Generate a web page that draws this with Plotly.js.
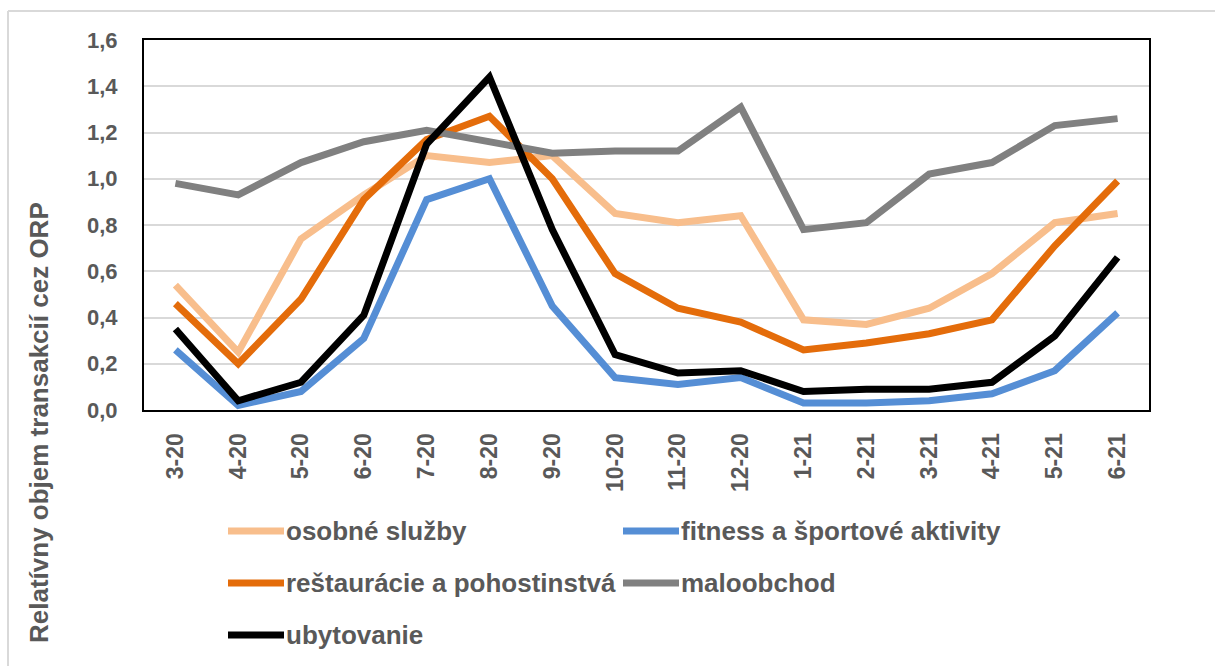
<!DOCTYPE html>
<html>
<head>
<meta charset="utf-8">
<script src="https://cdn.plot.ly/plotly-3.0.1.min.js"></script>
<style>html,body{margin:0;padding:0;background:#fff;}#chart{width:1215px;height:666px;}</style>
</head>
<body>
<div id="chart"></div>
<script>
// ---- data ----
const months = ["3-20","4-20","5-20","6-20","7-20","8-20","9-20","10-20","11-20","12-20","1-21","2-21","3-21","4-21","5-21","6-21"];
const seriesNames = ["osobné služby","fitness a športové aktivity","reštaurácie a pohostinstvá","maloobchod","ubytovanie"];
const osobneSluzby = [0.54,0.25,0.74,0.93,1.10,1.07,1.10,0.85,0.81,0.84,0.39,0.37,0.44,0.59,0.81,0.85];
const fitness      = [0.26,0.02,0.08,0.31,0.91,1.00,0.45,0.14,0.11,0.14,0.03,0.03,0.04,0.07,0.17,0.42];
const restauracie  = [0.46,0.20,0.48,0.91,1.17,1.27,1.00,0.59,0.44,0.38,0.26,0.29,0.33,0.39,0.71,0.99];
const maloobchod   = [0.98,0.93,1.07,1.16,1.21,1.16,1.11,1.12,1.12,1.31,0.78,0.81,1.02,1.07,1.23,1.26];
const ubytovanie   = [0.35,0.04,0.12,0.41,1.15,1.44,0.78,0.24,0.16,0.17,0.08,0.09,0.09,0.12,0.32,0.66];
const yTicks = [0,0.2,0.4,0.6,0.8,1.0,1.2,1.4,1.6];
const yTitle = "Relatívny objem transakcií cez ORP";

// ---- styles ----
const colors = ["#F8BE8C","#558ED5","#E46C0A","#808080","#000000"];
const allValues = [osobneSluzby, fitness, restauracie, maloobchod, ubytovanie];
const textColor = "#595959";
const FONT = "'Liberation Sans', Arial, sans-serif";

// plot area in pixels
const W = 1215, H = 666;
const L = 144, R = 1149, T = 40, B = 410;
const px2x = p => (p - L) / (R - L);
const px2y = p => (B - p) / (B - T);

const traces = allValues.map((vals, i) => ({
  type: "scatter",
  mode: "lines",
  x: months,
  y: vals,
  name: seriesNames[i],
  line: {color: colors[i], width: 7},
  showlegend: false,
  hoverinfo: "x+y+name"
}));

// manual legend (Excel-style long swatches, 2 columns)
const legendPos = [
  {sx: 225, ty: 531}, {sx: 620, ty: 531},
  {sx: 225, ty: 583}, {sx: 620, ty: 583},
  {sx: 225, ty: 635}
];
const shapes = [];
const annotations = [];
seriesNames.forEach((nm, i) => {
  const p = legendPos[i];
  shapes.push({type: "line", xref: "paper", yref: "paper",
    x0: px2x(p.sx + 3), x1: px2x(p.sx + 59), y0: px2y(p.ty), y1: px2y(p.ty),
    line: {color: colors[i], width: 7}});
  annotations.push({xref: "paper", yref: "paper", x: px2x(p.sx + 59), y: px2y(p.ty),
    xanchor: "left", yanchor: "middle", showarrow: false, text: "<b>" + nm + "</b>",
    font: {family: FONT, size: 26, color: textColor}});
});
// y-axis title centred on the whole chart
annotations.push({xref: "paper", yref: "paper", x: px2x(39), y: px2y(423),
  xanchor: "center", yanchor: "middle", textangle: -90, showarrow: false,
  text: "<b>" + yTitle + "</b>", font: {family: FONT, size: 26, color: textColor}});
// outer chart frame (top and left)
shapes.push({type: "line", xref: "paper", yref: "paper", x0: px2x(8), x1: px2x(1215), y0: px2y(11), y1: px2y(11), line: {color: "#D9D9D9", width: 2}});
shapes.push({type: "line", xref: "paper", yref: "paper", x0: px2x(8), x1: px2x(8), y0: px2y(11), y1: px2y(666), line: {color: "#D9D9D9", width: 2}});

const layout = {
  width: W, height: H,
  margin: {l: L, r: W - R, t: T, b: H - B, pad: 0},
  paper_bgcolor: "#fff", plot_bgcolor: "#fff",
  separators: ", ",
  font: {family: FONT, color: textColor},
  showlegend: false,
  xaxis: {
    type: "category",
    range: [-0.5, months.length - 0.5],
    showgrid: false, zeroline: false,
    showline: true, mirror: true, linecolor: "#000", linewidth: 2,
    ticks: "", tickangle: -90, ticklabelstandoff: 12,
    tickfont: {family: FONT, size: 23, color: textColor, weight: "bold"}
  },
  yaxis: {
    range: [0, 1.6],
    tickvals: yTicks,
    tickformat: ".1f",
    showgrid: true, gridcolor: "#D9D9D9", gridwidth: 2,
    zeroline: false,
    showline: true, mirror: true, linecolor: "#000", linewidth: 2,
    ticks: "", ticklabelstandoff: 20,
    tickfont: {family: FONT, size: 22, color: textColor, weight: "bold"}
  },
  shapes: shapes,
  annotations: annotations
};

Plotly.newPlot("chart", traces, layout, {staticPlot: true, displayModeBar: false});
</script>
</body>
</html>
